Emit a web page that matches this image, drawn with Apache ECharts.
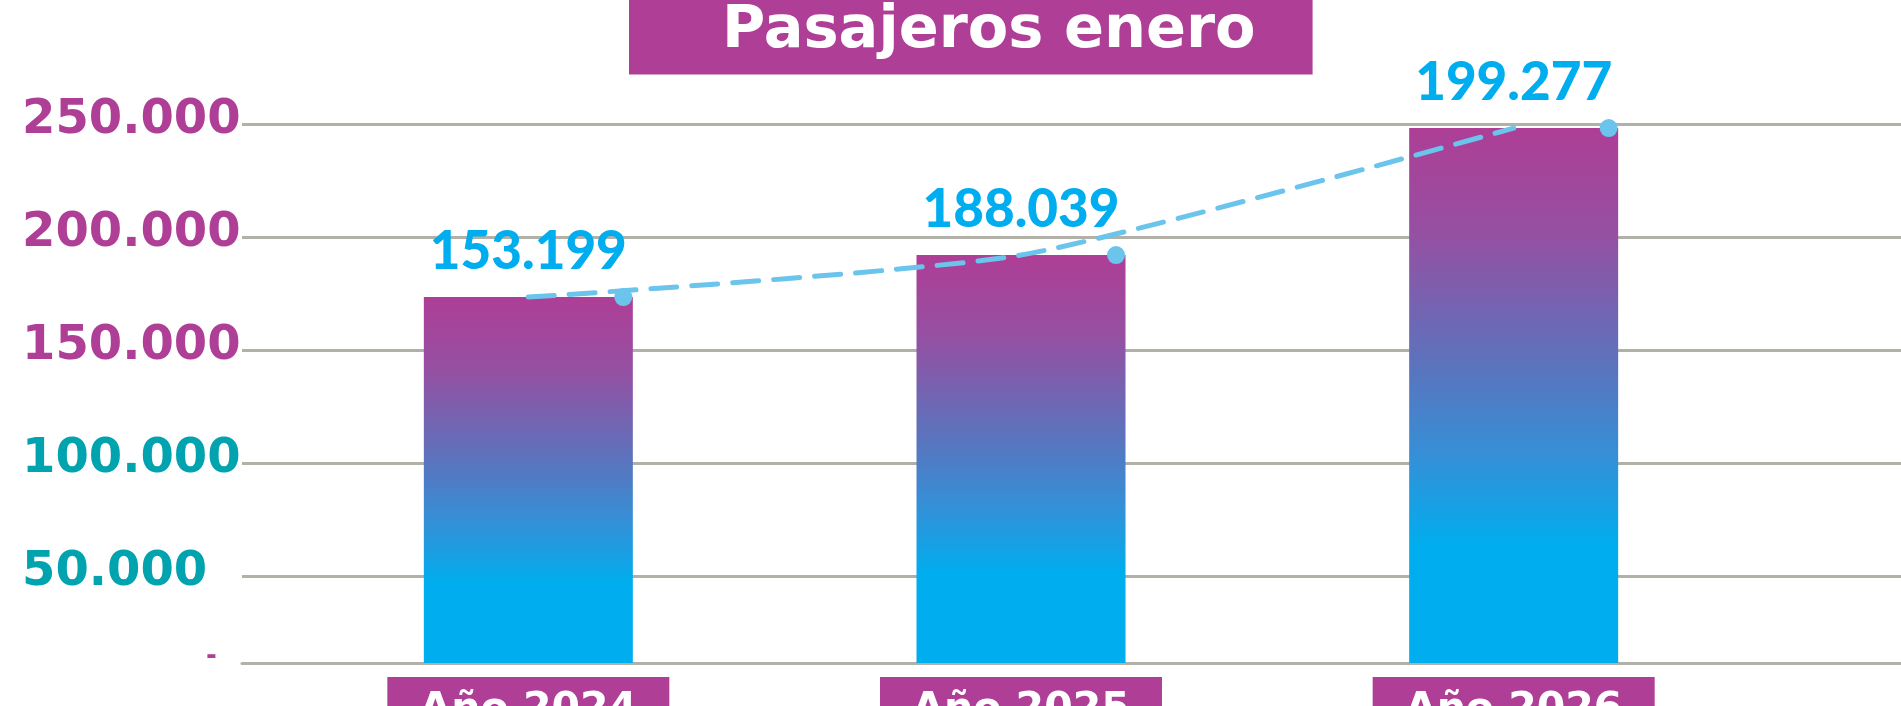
<!DOCTYPE html>
<html>
<head>
<meta charset="utf-8">
<script src="https://cdn.jsdelivr.net/npm/echarts@6/dist/echarts.min.js"></script>
<style>
  html, body { margin: 0; padding: 0; background: #fff; }
  #chart { width: 1901px; height: 706px; }
</style>
</head>
<body>
<div id="chart"></div>
<script>
// datos
const categories = ['Año 2024', 'Año 2025', 'Año 2026'];
const barValues = [173400, 192000, 248200];
const valueLabels = ['153.199', '188.039', '199.277'];
const tickValues = [50000, 100000, 150000, 200000, 250000];
const tickLabels = ['50.000', '100.000', '150.000', '200.000', '250.000'];
const axisBase = 11500;   // the baseline sits a bit above zero in the picture
const axisTop = 250000;

const purple = '#ae3e96';
const teal = '#00a3ae';
const blue = '#00adee';
const lineBlue = '#6bc4ec';
const gridGray = '#b2b1a7';

const chart = echarts.init(document.getElementById('chart'));

const barGradient = new echarts.graphic.LinearGradient(0, 0, 0, 1, [
    { offset: 0, color: purple },
    { offset: 0.2, color: '#9550a2' },
    { offset: 0.45, color: '#5a74be' },
    { offset: 0.62, color: '#3391d8' },
    { offset: 0.78, color: blue },
    { offset: 1, color: blue }
]);

chart.setOption({
    animation: false,
    title: {
        text: 'Pasajeros enero',
        left: 629,
        top: 0,
        backgroundColor: purple,
        padding: [3, 57, 13, 93],
        textStyle: {
            color: '#fff',
            fontFamily: 'DejaVu Sans',
            fontWeight: 'bold',
            fontSize: 59,
            lineHeight: 58
        }
    },
    grid: [
        // grid 0: only the gridlines and the y labels
        { left: 242, right: 0, top: 124, bottom: 43, outerBoundsMode: 'none' },
        // grid 1: bars and line
        { left: 282, right: 141, top: 124, bottom: 43, outerBoundsMode: 'none' }
    ],
    xAxis: [
        {
            gridIndex: 0, type: 'value', min: 0, max: 1,
            axisLine: { show: true, lineStyle: { color: gridGray, width: 3 } },
            axisTick: { show: false }, axisLabel: { show: false }, splitLine: { show: false }
        },
        {
            gridIndex: 1, type: 'category', data: categories,
            axisLine: { show: false }, axisTick: { show: false },
            axisLabel: {
                margin: 14,
                color: '#fff',
                fontFamily: 'DejaVu Sans',
                fontWeight: 'bold',
                fontSize: 41,
                lineHeight: 48,
                width: 282,
                align: 'center',
                verticalAlign: 'top',
                backgroundColor: purple,
                padding: [9, 0, 20, 0]
            }
        }
    ],
    yAxis: [
        {
            gridIndex: 0, type: 'value', min: axisBase, max: axisTop,
            axisLine: { show: false },
            axisTick: { show: false, customValues: tickValues },
            splitLine: { show: true, lineStyle: { color: gridGray, width: 3 } },
            axisLabel: {
                customValues: [axisBase].concat(tickValues),
                margin: 220,
                align: 'left',
                padding: [0, 0, 6, 0],
                fontFamily: 'DejaVu Sans',
                fontWeight: 'bold',
                fontSize: 48,
                color: function (v) { return v >= 150000 || v < 50000 ? purple : teal; },
                formatter: function (v) {
                    const i = tickValues.indexOf(v);
                    return i >= 0 ? tickLabels[i] : '{d|-}';
                },
                rich: {
                    d: { fontSize: 26, fontFamily: 'DejaVu Sans', fontWeight: 'bold', color: purple, padding: [0, 0, 6, 184] }
                }
            }
        },
        {
            gridIndex: 1, type: 'value', min: axisBase, max: axisTop, show: false,
            splitLine: { show: false }
        }
    ],
    series: [
        {
            type: 'bar',
            xAxisIndex: 1, yAxisIndex: 1,
            data: barValues,
            barWidth: 209,
            itemStyle: { color: barGradient },
            label: {
                show: true,
                position: 'top',
                distance: 19,
                color: blue,
                fontFamily: 'Lato',
                fontWeight: 900,
                fontSize: 53,
                lineHeight: 53,
                formatter: function (p) { return valueLabels[p.dataIndex]; }
            }
        },
        {
            type: 'line',
            xAxisIndex: 1, yAxisIndex: 1,
            data: barValues,
            smooth: 0.2,
            symbol: 'circle',
            symbolSize: 18,
            symbolOffset: [95, 0],
            lineStyle: { color: lineBlue, width: 5, type: [26, 15], cap: 'round' },
            itemStyle: { color: lineBlue },
            z: 3
        }
    ]
});
</script>
</body>
</html>
